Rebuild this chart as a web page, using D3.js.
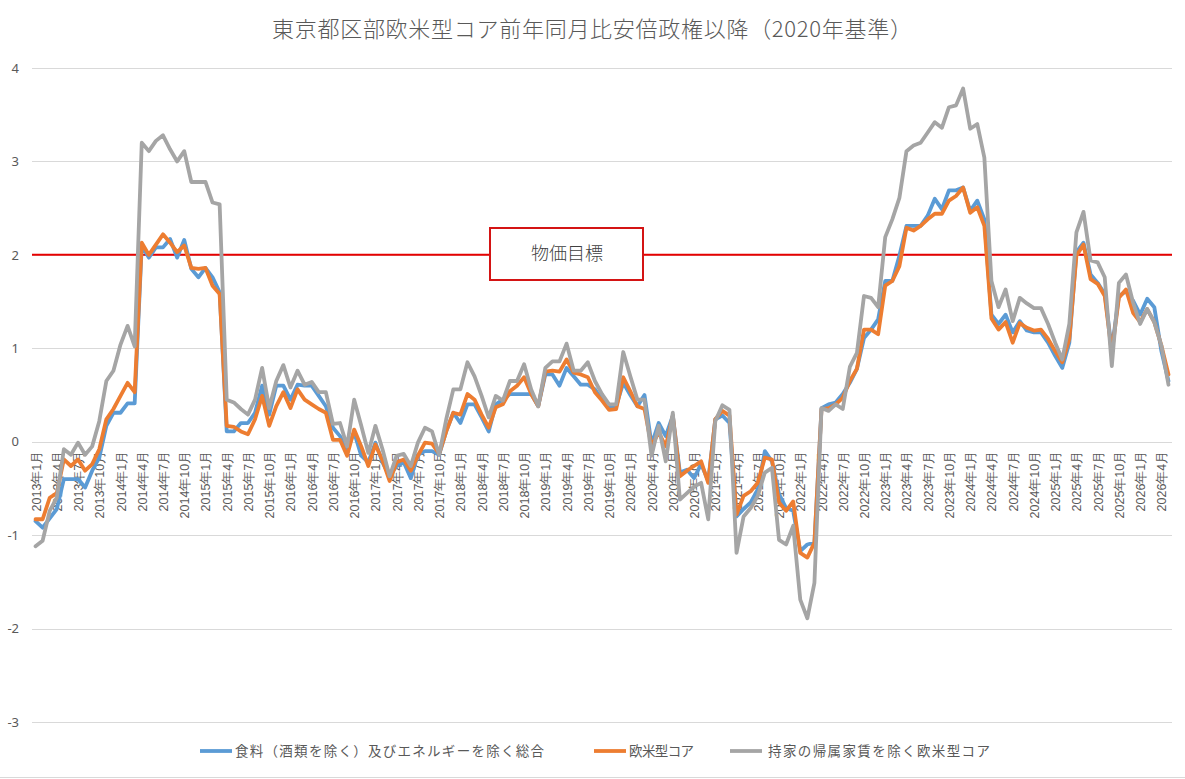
<!DOCTYPE html>
<html>
<head>
<meta charset="utf-8">
<script src="https://cdn.jsdelivr.net/npm/d3@7"></script>
<style>
  body { margin: 0; background: #fff; }
  svg { display: block; font-family: "Noto Sans CJK JP", "Noto Sans", sans-serif; }
  .grid line { stroke: #d9d9d9; stroke-width: 1; }
  .series { fill: none; stroke-width: 3.8; stroke-linejoin: round; stroke-linecap: round; }
</style>
</head>
<body>
<script>

// 2013年1月 .. 2026年5月 (161 months)
const months = [];
for (let yr = 2013; yr <= 2026; yr++) {
  for (let m = 1; m <= 12; m++) {
    if (yr === 2026 && m > 5) break;
    months.push(`${yr}年${m}月`);
  }
}

const seriesNames = [
  '食料（酒類を除く）及びエネルギーを除く総合',
  '欧米型コア',
  '持家の帰属家賃を除く欧米型コア'
];

const coreCore = [
  -0.85, -0.92, -0.82, -0.72, -0.40, -0.40, -0.40, -0.49, -0.31, -0.17, 0.17, 0.31,
  0.31, 0.41, 0.41, 2.10, 1.97, 2.08, 2.08, 2.17, 1.97, 2.16, 1.85, 1.76,
  1.86, 1.76, 1.60, 0.11, 0.11, 0.20, 0.20, 0.31, 0.60, 0.29, 0.60, 0.60,
  0.45, 0.61, 0.60, 0.60, 0.49, 0.38, 0.15, 0.06, -0.08, 0.10, -0.15, -0.22,
  -0.01, -0.22, -0.37, -0.26, -0.22, -0.39, -0.14, -0.10, -0.10, -0.14, 0.11, 0.31,
  0.20, 0.40, 0.40, 0.26, 0.11, 0.40, 0.45, 0.51, 0.51, 0.51, 0.51, 0.38,
  0.72, 0.72, 0.60, 0.79, 0.70, 0.61, 0.61, 0.56, 0.45, 0.38, 0.38, 0.63,
  0.50, 0.38, 0.50, -0.03, 0.20, 0.06, 0.28, -0.33, -0.30, -0.39, -0.24, -0.42,
  0.24, 0.28, 0.20, -0.80, -0.72, -0.65, -0.51, -0.10, -0.21, -0.56, -0.71, -0.74,
  -1.17, -1.10, -1.08, 0.36, 0.40, 0.42, 0.51, 0.63, 0.78, 1.11, 1.20, 1.31,
  1.72, 1.72, 1.99, 2.31, 2.31, 2.31, 2.42, 2.60, 2.49, 2.69, 2.69, 2.72,
  2.47, 2.58, 2.38, 1.36, 1.26, 1.36, 1.17, 1.29, 1.19, 1.17, 1.17, 1.06,
  0.92, 0.79, 1.06, 2.03, 2.13, 1.79, 1.70, 1.58, 0.99, 1.56, 1.61, 1.51,
  1.36, 1.53, 1.44, 0.97, 0.65
];

const westernCore = [
  -0.83, -0.83, -0.60, -0.55, -0.19, -0.26, -0.19, -0.31, -0.24, -0.08, 0.24, 0.35,
  0.49, 0.63, 0.53, 2.13, 2.00, 2.11, 2.22, 2.13, 2.03, 2.10, 1.86, 1.85,
  1.86, 1.67, 1.58, 0.17, 0.16, 0.11, 0.08, 0.24, 0.49, 0.17, 0.38, 0.53,
  0.36, 0.56, 0.45, 0.40, 0.35, 0.31, 0.02, 0.02, -0.15, 0.13, -0.05, -0.26,
  -0.03, -0.20, -0.42, -0.22, -0.19, -0.31, -0.15, -0.01, -0.02, -0.13, 0.11, 0.31,
  0.29, 0.51, 0.45, 0.29, 0.15, 0.37, 0.40, 0.54, 0.60, 0.69, 0.51, 0.38,
  0.75, 0.76, 0.75, 0.88, 0.74, 0.72, 0.69, 0.53, 0.44, 0.34, 0.35, 0.69,
  0.54, 0.38, 0.35, -0.05, 0.10, -0.05, 0.28, -0.37, -0.31, -0.26, -0.21, -0.44,
  0.24, 0.33, 0.28, -0.78, -0.58, -0.53, -0.44, -0.17, -0.19, -0.65, -0.74, -0.64,
  -1.19, -1.24, -1.08, 0.35, 0.36, 0.40, 0.47, 0.65, 0.78, 1.20, 1.20, 1.15,
  1.67, 1.72, 1.88, 2.29, 2.26, 2.31, 2.38, 2.44, 2.44, 2.58, 2.63, 2.72,
  2.45, 2.51, 2.31, 1.32, 1.20, 1.28, 1.06, 1.27, 1.22, 1.19, 1.20, 1.10,
  0.97, 0.85, 1.10, 1.99, 2.11, 1.74, 1.69, 1.56, 0.95, 1.54, 1.63, 1.38,
  1.28, 1.42, 1.28, 1.03, 0.72
];

const westernCoreExRent = [
  -1.12, -1.06, -0.74, -0.60, -0.08, -0.14, -0.01, -0.14, -0.05, 0.22, 0.65, 0.76,
  1.04, 1.24, 1.02, 3.20, 3.11, 3.22, 3.28, 3.13, 3.00, 3.11, 2.78, 2.78,
  2.78, 2.56, 2.54, 0.45, 0.42, 0.35, 0.29, 0.45, 0.79, 0.36, 0.65, 0.82,
  0.58, 0.76, 0.61, 0.64, 0.53, 0.53, 0.19, 0.20, -0.05, 0.45, 0.17, -0.12,
  0.17, -0.08, -0.37, -0.15, -0.13, -0.26, -0.01, 0.15, 0.11, -0.14, 0.24, 0.56,
  0.56, 0.85, 0.70, 0.49, 0.26, 0.49, 0.44, 0.65, 0.65, 0.83, 0.56, 0.38,
  0.79, 0.86, 0.86, 1.05, 0.76, 0.76, 0.85, 0.65, 0.51, 0.40, 0.40, 0.96,
  0.70, 0.45, 0.45, -0.15, 0.17, -0.21, 0.31, -0.62, -0.55, -0.48, -0.44, -0.83,
  0.22, 0.39, 0.34, -1.19, -0.80, -0.71, -0.58, -0.33, -0.28, -1.05, -1.10, -0.90,
  -1.69, -1.89, -1.51, 0.36, 0.33, 0.40, 0.35, 0.80, 0.95, 1.56, 1.54, 1.44,
  2.19, 2.38, 2.61, 3.11, 3.17, 3.20, 3.31, 3.42, 3.36, 3.58, 3.60, 3.78,
  3.35, 3.40, 3.04, 1.72, 1.44, 1.63, 1.29, 1.54, 1.48, 1.43, 1.43, 1.26,
  1.06, 0.88, 1.26, 2.24, 2.46, 1.94, 1.92, 1.76, 0.81, 1.70, 1.79, 1.49,
  1.26, 1.42, 1.28, 1.03, 0.61
];

const seriesColors = ['#5B9BD5', '#ED7D31', '#A5A5A5'];
const yTicks = [-3, -2, -1, 0, 1, 2, 3, 4];
const targetValue = 2;
const targetLabel = '物価目標';
const title = '東京都区部欧米型コア前年同月比安倍政権以降（2020年基準）';

const WIDTH = 1185, HEIGHT = 779;
const PLOT = { left: 32, right: 1172, top: 68, bottom: 722 };

const svg = d3.select('body').append('svg')
  .attr('width', WIDTH)
  .attr('height', HEIGHT);

const x = d3.scalePoint()
  .domain(months)
  .range([PLOT.left, PLOT.right])
  .padding(0.5);

const y = d3.scaleLinear()
  .domain([-3, 4])
  .range([PLOT.bottom, PLOT.top]);

// title
svg.append('text')
  .attr('x', 592)
  .attr('y', 37)
  .attr('text-anchor', 'middle')
  .attr('textLength', 640)
  .attr('lengthAdjust', 'spacing')
  .style('font-size', '22px')
  .style('font-weight', 300)
  .style('fill', '#595959')
  .text(title);

// gridlines
svg.append('g').attr('class', 'grid')
  .selectAll('line')
  .data(yTicks)
  .enter().append('line')
    .attr('x1', PLOT.left)
    .attr('x2', PLOT.right)
    .attr('y1', (d) => Math.round(y(d)) + 0.5)
    .attr('y2', (d) => Math.round(y(d)) + 0.5);

// y axis labels
const yAxis = svg.append('g')
  .attr('transform', `translate(${PLOT.left - 13}, 0)`)
  .call(d3.axisLeft(y).tickValues(yTicks).tickSize(0).tickPadding(0).tickFormat((d) => String(d)));
yAxis.select('.domain').remove();
yAxis.selectAll('text')
  .style('font-size', '13px')
  .style('fill', '#595959')
  .style('font-family', '"Noto Sans", sans-serif');

// x axis labels, every 3rd month
const xAxis = svg.append('g')
  .attr('transform', `translate(0, ${y(0)})`)
  .call(d3.axisBottom(x).tickValues(months.filter((d, i) => i % 3 === 0)).tickSize(0));
xAxis.select('.domain').remove();
xAxis.selectAll('text')
  .attr('transform', 'rotate(-90)')
  .attr('text-anchor', 'end')
  .attr('x', -9)
  .attr('y', 0)
  .attr('dy', '0.36em')
  .style('font-size', '12.5px')
  .style('fill', '#595959');

// target line
svg.append('line')
  .attr('x1', PLOT.left)
  .attr('x2', PLOT.right)
  .attr('y1', y(targetValue))
  .attr('y2', y(targetValue))
  .style('stroke', '#e60000')
  .style('stroke-width', 2);

// series lines
const seriesData = [coreCore, westernCore, westernCoreExRent];
const line = d3.line()
  .x((d, i) => x(months[i]))
  .y((d) => y(d));

svg.append('g')
  .selectAll('path')
  .data(seriesData)
  .enter().append('path')
    .attr('class', 'series')
    .attr('d', line)
    .style('stroke', (d, i) => seriesColors[i]);

// target label box
const box = svg.append('g').attr('transform', 'translate(490, 228)');
box.append('rect')
  .attr('width', 153)
  .attr('height', 52)
  .style('fill', '#fff')
  .style('stroke', '#d41414')
  .style('stroke-width', 2);
box.append('text')
  .attr('x', 77)
  .attr('y', 25.5)
  .attr('dy', '0.36em')
  .attr('text-anchor', 'middle')
  .style('font-size', '18px')
  .style('font-weight', 300)
  .style('fill', '#404040')
  .text(targetLabel);

// legend
const legendX = [200, 594, 730];
const legendLen = [309, 65, 222];
const legend = svg.append('g')
  .selectAll('g')
  .data(seriesNames)
  .enter().append('g')
    .attr('transform', (d, i) => `translate(${legendX[i]}, 751)`);
legend.append('line')
  .attr('x1', 0)
  .attr('x2', 32)
  .style('stroke', (d, i) => seriesColors[i])
  .style('stroke-width', 3.8);
legend.append('text')
  .attr('x', (d, i) => i === 2 ? 38 : 35)
  .attr('dy', '0.36em')
  .attr('textLength', (d, i) => legendLen[i])
  .attr('lengthAdjust', 'spacing')
  .style('font-size', '13.5px')
  .style('fill', '#595959')
  .text((d) => d);

// bottom border
svg.append('line')
  .attr('x1', 0)
  .attr('x2', WIDTH)
  .attr('y1', HEIGHT - 1.5)
  .attr('y2', HEIGHT - 1.5)
  .style('stroke', '#d9d9d9')
  .style('stroke-width', 1);

</script>
</body>
</html>
